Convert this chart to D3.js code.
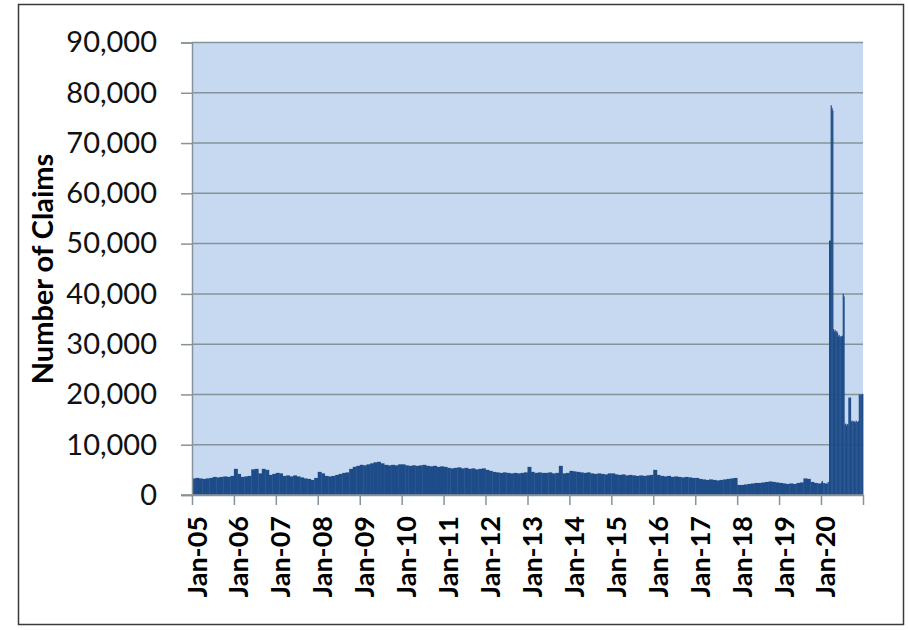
<!DOCTYPE html>
<html>
<head>
<meta charset="utf-8">
<script src="https://cdn.jsdelivr.net/npm/d3@7"></script>
<style>
  body { margin: 0; background: #fff; }
  svg { display: block; }
</style>
</head>
<body>
<div id="chart"></div>
<script>
/* DATA ######################################################### */
// monthly levels 2005-2019 (one row per year, Jan..Dec)
const monthlyYears = d3.range(2005, 2020);
const monthlyClaims = [
  [3300, 3400, 3300, 3200, 3300, 3400, 3600, 3500, 3600, 3700, 3600, 3800],
  [5200, 4200, 3600, 3700, 3800, 5100, 5200, 4300, 5200, 5000, 4000, 4200],
  [4400, 4300, 3800, 3900, 3700, 3900, 3700, 3500, 3300, 3200, 3000, 3400],
  [4600, 4300, 3800, 3700, 3800, 4000, 4200, 4400, 4500, 5200, 5600, 5800],
  [6000, 5900, 6100, 6300, 6500, 6600, 6300, 6000, 5900, 6000, 5900, 6100],
  [6100, 5900, 5800, 5900, 5800, 5900, 6000, 5800, 5700, 5800, 5600, 5700],
  [5600, 5400, 5300, 5400, 5500, 5300, 5400, 5200, 5300, 5100, 5200, 5300],
  [5000, 4800, 4600, 4500, 4400, 4500, 4400, 4300, 4400, 4300, 4400, 4500],
  [5600, 4600, 4400, 4500, 4400, 4400, 4500, 4300, 4400, 5800, 4300, 4400],
  [4800, 4700, 4600, 4500, 4400, 4500, 4300, 4200, 4300, 4200, 4100, 4300],
  [4300, 4100, 4000, 4100, 3900, 4000, 3900, 3800, 3900, 3800, 3900, 4000],
  [5000, 4000, 3800, 3700, 3800, 3600, 3700, 3600, 3500, 3600, 3500, 3400],
  [3400, 3200, 3100, 3000, 3100, 3000, 2900, 3000, 3100, 3200, 3300, 3400],
  [2000, 2000, 2100, 2200, 2300, 2400, 2400, 2500, 2600, 2700, 2600, 2500],
  [2400, 2300, 2200, 2300, 2200, 2400, 2500, 3300, 3200, 2600, 2400, 2300]
];

// weekly counts for 2020 (week 1 .. week 52)
const weekly2020 = [
  2500, 2800, 2400, 2300, 2400, 2200, 2300, 2200, 2500, 2600,
  50600, 50600, 77500, 77000, 76500, 33000, 32500, 32800, 32400, 32600,
  32200, 31500, 31800, 31400, 31600, 31500, 31700, 40000, 39500, 14000,
  14200, 13800, 14100, 14000, 19400, 19300, 19400, 14600, 14800, 14500,
  14700, 14600, 14400, 14800, 14600, 14500, 14700, 20000, 20000, 19800,
  20000, 20100
];

const yTicks = d3.range(0, 90001, 10000);
const yTitle = "Number of Claims";

/* CONSTANTS ################################################### */
const width = 908;
const height = 630;
const plot = { left: 192, right: 863, top: 42.5, bottom: 495 };

// build one list of periods, each bar spans start -> end
const periods = [];
monthlyYears.forEach((yr, i) => {
  monthlyClaims[i].forEach((v, m) => {
    periods.push({ start: new Date(yr, m, 1), end: new Date(yr, m + 1, 1), value: v });
  });
});
weekly2020.forEach((v, w) => {
  const s = d3.timeDay.offset(new Date(2020, 0, 1), w * 7);
  const e = w === weekly2020.length - 1 ? new Date(2021, 0, 1) : d3.timeDay.offset(s, 7);
  periods.push({ start: s, end: e, value: v });
});

/* SCALES ###################################################### */
const xScale = d3.scaleTime()
  .domain([new Date(2005, 0, 1), new Date(2021, 0, 1)])
  .range([plot.left, plot.right]);

const yScale = d3.scaleLinear()
  .domain([0, 90000])
  .range([plot.bottom, plot.top]);

/* SVG ######################################################### */
const svg = d3.select("#chart")
  .append("svg")
  .attr("width", width)
  .attr("height", height);

// outer frame
svg.append("rect")
  .attr("x", 18.5).attr("y", 4.5)
  .attr("width", 885).attr("height", 620)
  .attr("fill", "#fff")
  .attr("stroke", "#3a3a3a")
  .attr("stroke-width", 1.5);

// plot background
svg.append("rect")
  .attr("x", plot.left).attr("y", plot.top)
  .attr("width", plot.right - plot.left)
  .attr("height", plot.bottom - plot.top)
  .attr("fill", "#c6d9f0");

// gridlines
svg.append("g")
  .selectAll("line")
  .data(yTicks.slice(1))
  .join("line")
    .attr("x1", plot.left).attr("x2", plot.right)
    .attr("y1", d => yScale(d)).attr("y2", d => yScale(d))
    .attr("stroke", "#86939a")
    .attr("stroke-width", 1.5);

// bars
svg.append("g")
  .selectAll("rect")
  .data(periods)
  .join("rect")
    .attr("x", d => xScale(d.start))
    .attr("width", d => xScale(d.end) - xScale(d.start) + 0.4)
    .attr("y", d => yScale(d.value))
    .attr("height", d => yScale(0) - yScale(d.value))
    .attr("fill", "#1e4c88");

// y axis
const yAxis = svg.append("g")
  .attr("transform", `translate(${plot.left},0)`)
  .call(d3.axisLeft(yScale)
    .tickValues(yTicks)
    .tickSize(11)
    .tickPadding(24)
    .tickFormat(d3.format(",")));

yAxis.select(".domain").attr("stroke", "#86939a").attr("stroke-width", 1.5);
yAxis.selectAll(".tick line").attr("stroke", "#86939a").attr("stroke-width", 1.5);
yAxis.selectAll(".tick text")
  .attr("fill", "#111")
  .style("font-family", "Lato, 'Open Sans', sans-serif")
  .style("font-size", "29px");

// x axis
const xTickDates = d3.range(2005, 2022).map(y => new Date(y, 0, 1));
const xAxis = svg.append("g")
  .attr("transform", `translate(0,${plot.bottom})`)
  .call(d3.axisBottom(xScale)
    .tickValues(xTickDates)
    .tickSize(10)
    .tickSizeOuter(0)
    .tickFormat(d => d.getFullYear() === 2021 ? "" : d3.timeFormat("Jan-%y")(d)));

xAxis.select(".domain").attr("stroke", "#86939a").attr("stroke-width", 1.5);
xAxis.selectAll(".tick line").attr("stroke", "#86939a").attr("stroke-width", 1.5);
xAxis.selectAll(".tick text")
  .attr("transform", "rotate(-90)")
  .attr("text-anchor", "end")
  .attr("x", -21)
  .attr("y", 14)
  .attr("dy", null)
  .attr("fill", "#000")
  .style("font-family", "Lato, 'Open Sans', sans-serif")
  .style("font-weight", "bold")
  .style("font-size", "27px");

// the zero line extends left like the gridlines' ticks
svg.append("line")
  .attr("x1", plot.left - 11).attr("x2", plot.right)
  .attr("y1", plot.bottom).attr("y2", plot.bottom)
  .attr("stroke", "#86939a")
  .attr("stroke-width", 1.5);

// y title
svg.append("text")
  .attr("transform", `translate(53,${(146 + 392) / 2}) rotate(-90)`)
  .attr("text-anchor", "middle")
  .style("font-family", "Lato, 'Open Sans', sans-serif")
  .style("font-weight", "bold")
  .style("font-size", "29px")
  .attr("fill", "#000")
  .text(yTitle);
</script>
</body>
</html>
